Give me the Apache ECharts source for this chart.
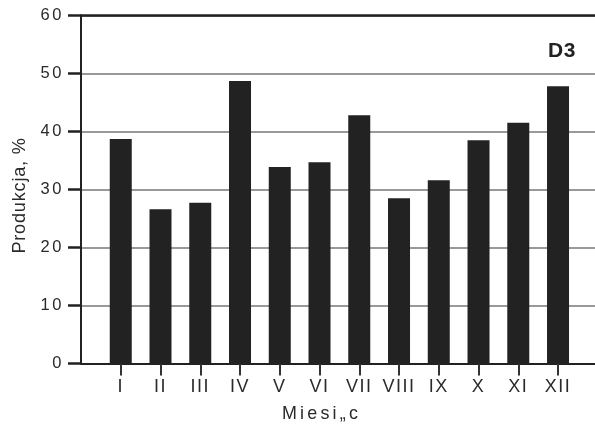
<!DOCTYPE html>
<html>
<head>
<meta charset="utf-8">
<script src="https://cdn.jsdelivr.net/npm/echarts@6/dist/echarts.min.js"></script>
<style>
  html, body { margin: 0; padding: 0; background: #fff; }
  #c { width: 595px; height: 424px; }
</style>
</head>
<body>
<div id="c"></div>
<script>
// Data
const months = ['I', 'II', 'III', 'IV', 'V', 'VI', 'VII', 'VIII', 'IX', 'X', 'XI', 'XII'];
const production = [38.7, 26.6, 27.7, 48.7, 33.9, 34.7, 42.8, 28.5, 31.6, 38.5, 41.5, 47.8];
const yTickValues = [0, 10, 20, 30, 40, 50, 60];
const panelLabel = 'D3';
const xTitle = 'Miesi\u201ec';
const yTitle = 'Produkcja, %';

const FONT = "'Liberation Sans', Arial, sans-serif";
const monthPositions = months.map((m, i) => i + 1);

// The reference typesetting is letter-spaced; apply tracking when the canvas draws text.
(function () {
  const proto = CanvasRenderingContext2D.prototype;
  const origFill = proto.fillText;
  proto.fillText = function (t, x, y, w) {
    if ('letterSpacing' in this) {
      const f = this.font;
      let s = '1.5px';
      if (/bold/.test(f)) s = '0.5px';
      else if (/16\.5px/.test(f)) s = '2.6px';
      else if (/17\.9px/.test(f)) s = '3.2px';
      else if (/18\.1px/.test(f)) s = '0.8px';
      this.letterSpacing = s;
    }
    return w === undefined ? origFill.call(this, t, x, y) : origFill.call(this, t, x, y, w);
  };
})();

const chart = echarts.init(document.getElementById('c'), null, { renderer: 'canvas' });
chart.setOption({
  animation: false,
  backgroundColor: '#fff',
  textStyle: { fontFamily: FONT },
  title: [
    { text: panelLabel, left: 543, top: 36,
      textStyle: { fontFamily: FONT, fontSize: 21, fontWeight: 'bold', color: '#222' } },
    { text: xTitle, left: 277, top: 400,
      textStyle: { fontFamily: FONT, fontSize: 17.9, fontWeight: 'normal', color: '#2a2a2a' } }
  ],
  grid: { left: 81, right: 0, top: 15.5, bottom: 60.5, containLabel: false },
  xAxis: [
    {
      type: 'value', min: 0, max: 12.93, interval: 1,
      axisLine: { show: true, onZero: false, lineStyle: { color: '#222', width: 2 } },
      axisTick: { show: true, inside: false, customValues: monthPositions, length: 12,
        lineStyle: { color: '#333', width: 2 } },
      axisLabel: { show: true, customValues: monthPositions, margin: 15,
        formatter: v => months[Math.round(v) - 1] || '',
        fontFamily: FONT, fontSize: 18, color: '#2a2a2a' },
      splitLine: { show: false }
    },
    {
      type: 'value', position: 'top', min: 0, max: 12.93, interval: 1,
      axisLine: { show: true, onZero: false, lineStyle: { color: '#222', width: 2.5 } },
      axisTick: { show: false }, axisLabel: { show: false }, splitLine: { show: false }
    }
  ],
  yAxis: {
    type: 'value', min: yTickValues[0], max: yTickValues[yTickValues.length - 1], interval: 10,
    name: yTitle, nameLocation: 'middle', nameGap: 52,
    nameTextStyle: { fontFamily: FONT, fontSize: 18.1, color: '#2a2a2a', padding: [0, 12, 0, 0] },
    axisLine: { show: true, onZero: false, lineStyle: { color: '#222', width: 2 } },
    axisTick: { show: true, inside: false, length: 13, lineStyle: { color: '#222', width: 2.5 } },
    axisLabel: { margin: 17, fontFamily: FONT, fontSize: 16.5, color: '#2a2a2a' },
    splitLine: { show: true, lineStyle: { color: '#777', width: 1.5 } }
  },
  series: [{
    type: 'bar',
    xAxisIndex: 0,
    data: production.map((v, i) => [monthPositions[i], v]),
    barWidth: 22,
    itemStyle: { color: '#222' },
    silent: true
  }]
});
</script>
</body>
</html>
